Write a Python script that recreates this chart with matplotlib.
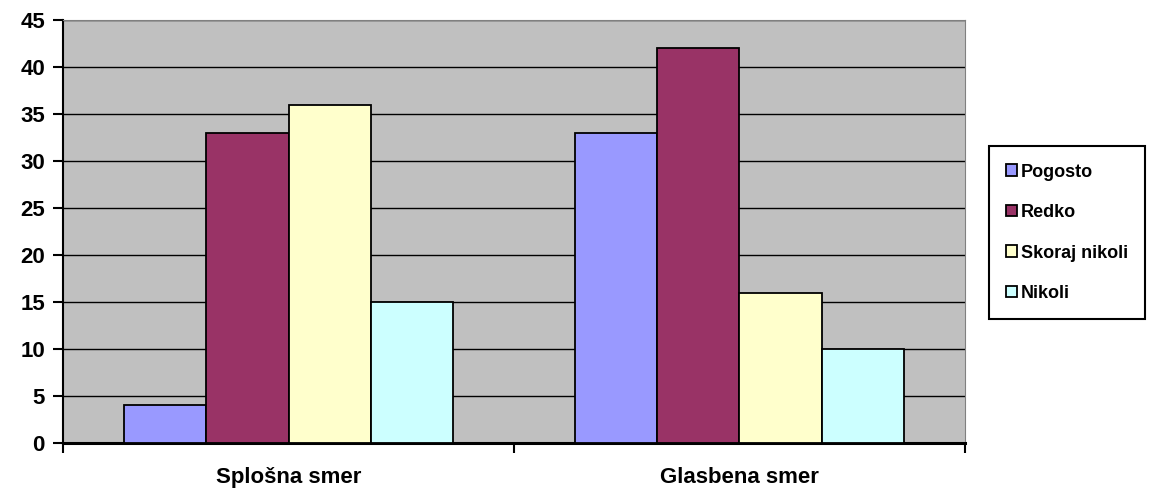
import matplotlib
matplotlib.use("Agg")
import matplotlib.pyplot as plt
import numpy as np

categories = ["Splošna smer", "Glasbena smer"]
series = ["Pogosto", "Redko", "Skoraj nikoli", "Nikoli"]
pogosto = [4, 33]
redko = [33, 42]
skoraj_nikoli = [36, 16]
nikoli = [15, 10]
colors = ["#9999FF", "#993366", "#FFFFCC", "#CCFFFF"]

plt.rcParams["font.family"] = ["Liberation Sans", "DejaVu Sans"]
plt.rcParams["font.weight"] = "bold"

fig = plt.figure(figsize=(11.5, 4.94), dpi=100)
ax = fig.add_axes([0.0548, 0.1032, 0.7843, 0.8563])
ax.set_facecolor("#C0C0C0")

x = np.arange(len(categories))
width = 0.182
values = [pogosto, redko, skoraj_nikoli, nikoli]
for i, (name, vals) in enumerate(zip(series, values)):
    ax.bar(x + (i - 1.5) * width, vals, width, color=colors[i],
           edgecolor="black", linewidth=1.3, label=name, zorder=3)

ax.set_xlim(-0.5, 1.5)
ax.set_ylim(0, 45)
ax.set_yticks(range(0, 46, 5))
ax.yaxis.grid(True, color="black", linewidth=1, zorder=1)
ax.set_axisbelow(True)

# category labels centred, tick marks on the boundaries
ax.set_xticks([-0.5, 0.5, 1.5])
ax.set_xticklabels([])
ax.set_xticks(x, minor=True)
ax.set_xticklabels(categories, minor=True, fontsize=16, fontweight="bold")
ax.tick_params(axis="x", which="minor", length=0, pad=17)
ax.tick_params(axis="x", which="major", length=7, width=1.5, direction="out")
ax.tick_params(axis="y", length=7, width=1.5, direction="out", labelsize=16, pad=6)
for lab in ax.get_yticklabels():
    lab.set_fontweight("bold")

ax.spines["left"].set_linewidth(1.5)
ax.spines["bottom"].set_linewidth(2.2)
ax.spines["top"].set_color("#808080")
ax.spines["right"].set_color("#808080")

leg = ax.legend(loc="center left", bbox_to_anchor=(1.027, 0.497), frameon=True,
                fancybox=False, edgecolor="black", framealpha=1, fontsize=13,
                handlelength=0.6, handleheight=0.6, handletextpad=0.2,
                labelspacing=1.3, borderpad=0.95, borderaxespad=0)
leg.get_frame().set_linewidth(1.5)
for t in leg.get_texts():
    t.set_fontweight("bold")

fig.savefig("out.png", dpi=100)
